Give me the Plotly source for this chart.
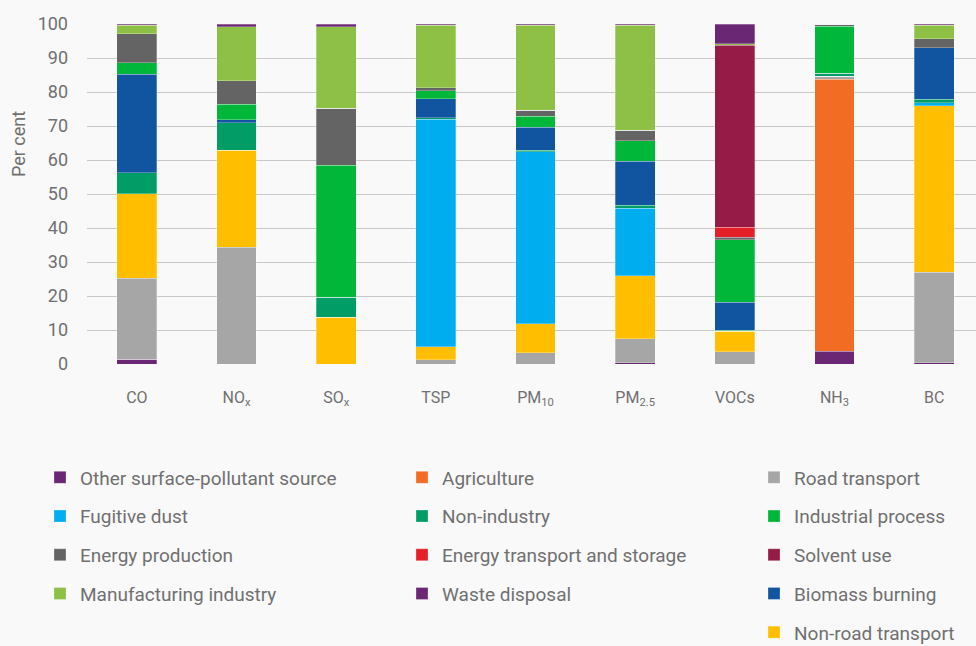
import plotly.graph_objects as go

categories = ["CO", "NO<sub>x</sub>", "SO<sub>x</sub>", "TSP", "PM<sub>10</sub>",
              "PM<sub>2.5</sub>", "VOCs", "NH<sub>3</sub>", "BC"]

# stack order bottom -> top
other_surface = [1.4, 0, 0, 0, 0, 0.4, 0, 3.8, 0.4]
agriculture   = [0, 0, 0, 0, 0, 0, 0, 80.0, 0]
road          = [23.8, 34.3, 0, 1.2, 3.3, 7.0, 3.6, 0.9, 26.6]
non_road      = [24.9, 28.6, 13.8, 3.9, 8.5, 18.5, 6.1, 0, 48.9]
fugitive      = [0, 0, 0, 66.9, 50.6, 19.9, 0, 0, 0.9]
non_industry  = [6.2, 8.1, 5.8, 0.4, 0.5, 0.9, 0.2, 0.8, 1.1]
biomass       = [28.9, 0.8, 0, 5.6, 6.7, 13.0, 8.2, 0, 15.1]
industrial    = [3.4, 4.6, 38.9, 2.4, 3.3, 5.9, 18.5, 13.8, 0]
energy_prod   = [8.5, 6.9, 16.7, 0.9, 1.8, 3.2, 0.7, 0.7, 2.7]
energy_trans  = [0, 0, 0, 0, 0, 0, 2.9, 0, 0]
solvent       = [0, 0, 0, 0, 0, 0, 53.5, 0, 0]
manufacturing = [2.5, 15.9, 24.0, 18.4, 25.0, 30.9, 0.5, 0, 4.0]
waste         = [0.4, 0.8, 0.8, 0.3, 0.3, 0.3, 5.8, 0, 0.3]

# (name, values, colour, legend, rank)
series = [
    ("Other surface-pollutant source", other_surface, "#6a2874", "legend", 1),
    ("Agriculture", agriculture, "#f36c23", "legend2", 1),
    ("Road transport", road, "#a6a6a6", "legend3", 1),
    ("Non-road transport", non_road, "#ffbf00", "legend3", 5),
    ("Fugitive dust", fugitive, "#00aeef", "legend", 2),
    ("Non-industry", non_industry, "#009e66", "legend2", 2),
    ("Biomass burning", biomass, "#1155a0", "legend3", 4),
    ("Industrial process", industrial, "#00b73a", "legend3", 2),
    ("Energy production", energy_prod, "#646464", "legend", 3),
    ("Energy transport and storage", energy_trans, "#e3202a", "legend2", 3),
    ("Solvent use", solvent, "#971b47", "legend3", 3),
    ("Manufacturing industry", manufacturing, "#8ec045", "legend", 4),
    ("Waste disposal", waste, "#6a2874", "legend2", 4),
]

fig = go.Figure()
for name, vals, col, lg, rank in series:
    fig.add_trace(go.Bar(
        x=categories, y=vals, name=name,
        marker=dict(color=col, line=dict(color="rgba(255,255,255,0.35)", width=0.8)),
        width=0.4, legend=lg, legendgroup=name, legendrank=rank,
    ))

W, H = 976, 646
L, T, B = 87, 24, 282
PW, PH = W - L, H - T - B
grey = "#707070"
font = "Roboto, 'Open Sans', sans-serif"


def px_x(px):
    return (px - L) / PW


def px_y(py):
    return (H - B - py) / PH


leg_common = dict(orientation="v", xref="paper", yref="paper",
                  xanchor="left", yanchor="top", bgcolor="rgba(0,0,0,0)",
                  traceorder="grouped", tracegroupgap=11,
                  font=dict(family=font, size=19, color=grey))
top_y = px_y(458.5)

fig.update_layout(
    width=W, height=H, barmode="stack", bargap=0.6,
    paper_bgcolor="#f9f9f9", plot_bgcolor="#f9f9f9",
    margin=dict(l=L, r=0, t=T, b=B, pad=0, autoexpand=False),
    font=dict(family=font, size=16, color=grey),
    showlegend=True,
    legend=dict(x=px_x(40), y=top_y, **leg_common),
    legend2=dict(x=px_x(402), y=top_y, **leg_common),
    legend3=dict(x=px_x(754), y=top_y, **leg_common),
    xaxis=dict(range=[-0.5, 8.42], showgrid=False, zeroline=False, showline=False,
               ticks="", ticklabelstandoff=22, tickangle=0,
               tickfont=dict(family=font, size=16, color=grey)),
    yaxis=dict(range=[0, 100], dtick=10, showgrid=True, gridcolor="#c8c8c8",
               gridwidth=1.3, zeroline=False, showline=False, ticks="",
               ticklabelstandoff=18,
               tickfont=dict(family=font, size=18, color=grey)),
    annotations=[dict(text="Per cent", textangle=-90, xref="paper", yref="paper",
                      x=px_x(18), y=px_y(144),
                      xanchor="center", yanchor="middle", showarrow=False,
                      font=dict(family=font, size=18, color=grey))],
)

fig.write_html(
    "out.html",
    config={"displayModeBar": False},
    post_script="document.body.style.margin='0';"
                "document.body.style.background='#f9f9f9';"
                "document.body.style.overflow='hidden';",
)
